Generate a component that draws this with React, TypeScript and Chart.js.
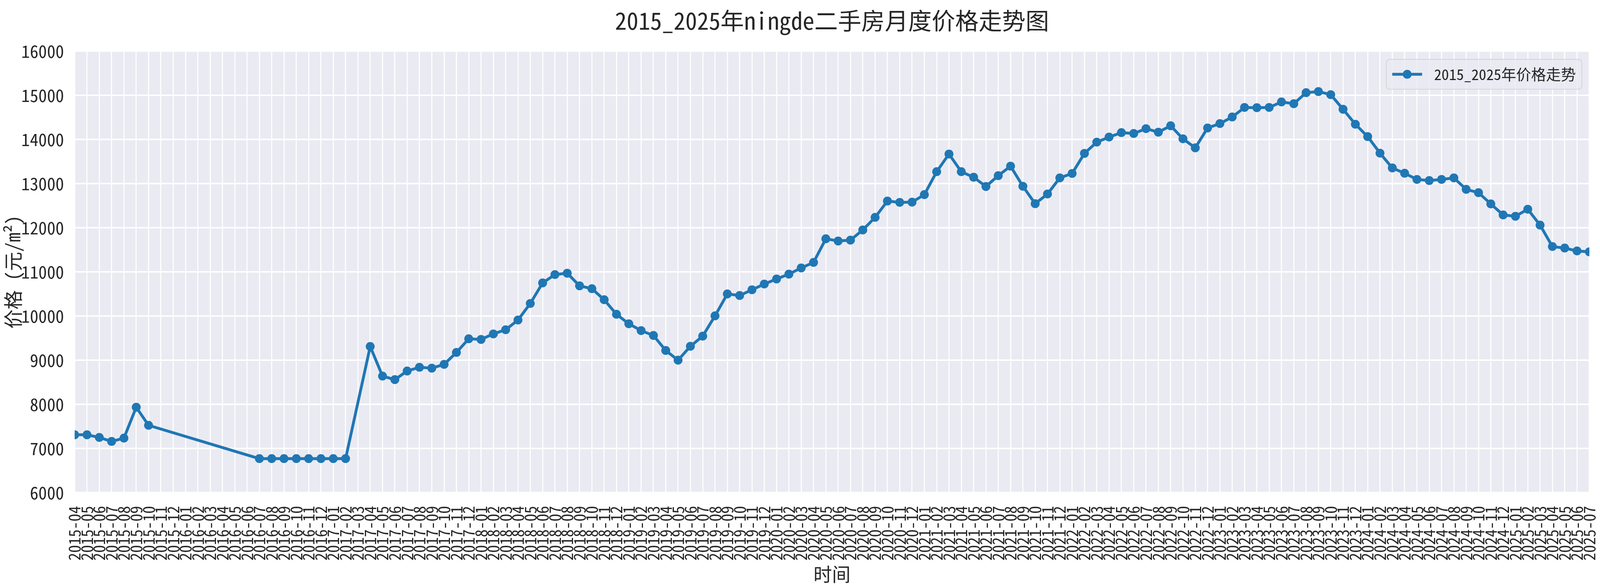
import React, { useEffect, useRef } from 'react';
import { Chart, registerables } from 'chart.js';
Chart.register(...registerables);

const FONT = "'Noto Sans Mono CJK SC', 'Noto Sans CJK SC', sans-serif";
const TEXT_COLOR = '#262626';
const LINE_COLOR = '#1f77b4';

const TITLE = '2015_2025年ningde二手房月度价格走势图';
const SERIES_LABEL = '2015_2025年价格走势';
const X_TITLE = '时间';
const Y_TITLE = '价格 (元/m²)';

// months 2015-04 .. 2025-07
const START_YEAR = 2015;
const START_MONTH = 4;
const END_YEAR = 2025;
const END_MONTH = 7;

// monthly price (元/m²), null = no data that month
const P2015 = [7310, 7310, 7250, 7160, 7235, 7935, 7525, null, null];
const P2016 = [null, null, null, null, null, null, 6770, 6770, 6770, 6770, 6770, 6770];
const P2017 = [6770, 6770, null, 9310, 8640, 8560, 8755, 8840, 8820, 8905, 9175, 9485];
const P2018 = [9470, 9595, 9690, 9910, 10285, 10750, 10940, 10970, 10685, 10620, 10370, 10040];
const P2019 = [9825, 9670, 9560, 9220, 9000, 9315, 9545, 10005, 10500, 10465, 10595, 10725];
const P2020 = [10840, 10950, 11090, 11215, 11750, 11700, 11720, 11950, 12235, 12605, 12575, 12580];
const P2021 = [12750, 13270, 13670, 13270, 13145, 12935, 13180, 13395, 12940, 12545, 12765, 13130];
const P2022 = [13230, 13685, 13940, 14055, 14155, 14135, 14245, 14165, 14310, 14015, 13810, 14260];
const P2023 = [14360, 14510, 14725, 14720, 14725, 14850, 14810, 15060, 15085, 15015, 14685, 14345];
const P2024 = [14065, 13690, 13355, 13235, 13095, 13070, 13095, 13130, 12870, 12795, 12540, 12290];
const P2025 = [12260, 12420, 12060, 11575, 11540, 11475, 11455];

const Y_MIN = 6000;
const Y_MAX = 16000;
const Y_STEP = 1000;

const PRICES: (number | null)[] = [
    ...P2015, ...P2016, ...P2017, ...P2018, ...P2019, ...P2020,
    ...P2021, ...P2022, ...P2023, ...P2024, ...P2025,
];

const buildLabels = (): string[] => {
    const out: string[] = [];
    let y = START_YEAR;
    let m = START_MONTH;
    while (y < END_YEAR || (y === END_YEAR && m <= END_MONTH)) {
        out.push(`${y}-${String(m).padStart(2, '0')}`);
        m++;
        if (m > 12) { m = 1; y++; }
    }
    return out;
};
const LABELS = buildLabels();

// grey plot area like seaborn darkgrid
const plotBackground = {
    id: 'plotBackground',
    beforeDraw(chart: any) {
        const { ctx, chartArea, width, height } = chart;
        ctx.save();
        ctx.fillStyle = '#ffffff';
        ctx.fillRect(0, 0, width, height);
        ctx.fillStyle = '#EAEAF2';
        ctx.fillRect(chartArea.left, chartArea.top, chartArea.right - chartArea.left, chartArea.bottom - chartArea.top);
        ctx.restore();
    }
};

const PriceChart: React.FC = () => {
    const chartRef = useRef<HTMLCanvasElement>(null);
    const chartInstance = useRef<Chart | null>(null);

    useEffect(() => {
        document.body.style.margin = '0';
        // layout numbers are given for a 4500 x 1500 page
        const SX = (window.innerWidth || 4500) / 4500;
        const SY = (window.innerHeight || 1500) / 1500;
        const px = (n: number) => n * SX;   // fonts, widths
        const py = (n: number) => n * SY;   // vertical distances

        // title centred over the plot area (like matplotlib's ax.set_title)
        const axesTitle = {
            id: 'axesTitle',
            afterDraw(chart: any) {
                const { ctx, chartArea } = chart;
                ctx.save();
                ctx.font = `${px(66)}px ${FONT}`;
                ctx.fillStyle = TEXT_COLOR;
                ctx.textAlign = 'center';
                ctx.textBaseline = 'middle';
                ctx.fillText(TITLE, (chartArea.left + chartArea.right) / 2, py(53));
                ctx.restore();
            }
        };

        // legend box in the upper right corner of the plot
        const innerLegend = {
            id: 'innerLegend',
            afterDraw(chart: any) {
                const { ctx, chartArea } = chart;
                const fs = px(42);
                ctx.save();
                ctx.font = `${fs}px ${FONT}`;
                const tw = ctx.measureText(SERIES_LABEL).width;
                const pad = 0.4 * fs;
                const handle = 2 * fs;
                const gap = 0.8 * fs;
                const w = pad * 2 + handle + gap + tw;
                const h = fs * 1.2 + pad * 2;
                const x = chartArea.right - 0.5 * fs - w;
                const y = chartArea.top + py(21);

                ctx.beginPath();
                ctx.roundRect(x, y, w, h, px(10));
                ctx.fillStyle = 'rgba(234, 234, 242, 0.8)';
                ctx.fill();
                ctx.lineWidth = px(2);
                ctx.strokeStyle = 'rgba(204, 204, 204, 0.8)';
                ctx.stroke();

                const cy = y + h / 2;
                ctx.beginPath();
                ctx.moveTo(x + pad, cy);
                ctx.lineTo(x + pad + handle, cy);
                ctx.strokeStyle = LINE_COLOR;
                ctx.lineWidth = px(8);
                ctx.stroke();
                ctx.beginPath();
                ctx.arc(x + pad + handle / 2, cy, px(12.5), 0, Math.PI * 2);
                ctx.fillStyle = LINE_COLOR;
                ctx.fill();

                ctx.fillStyle = TEXT_COLOR;
                ctx.textBaseline = 'middle';
                ctx.textAlign = 'left';
                ctx.fillText(SERIES_LABEL, x + pad + handle + gap, cy);
                ctx.restore();
            }
        };

        if (chartRef.current) {
            const ctx = chartRef.current.getContext('2d');
            if (ctx) {
                if (chartInstance.current) {
                    chartInstance.current.destroy();
                }

                chartInstance.current = new Chart(ctx, {
                    type: 'line',
                    data: {
                        labels: LABELS,
                        datasets: [{
                            label: SERIES_LABEL,
                            data: PRICES,
                            borderColor: LINE_COLOR,
                            backgroundColor: LINE_COLOR,
                            borderWidth: px(8),
                            pointRadius: px(12.5),
                            pointBorderWidth: 0,
                            pointBackgroundColor: LINE_COLOR,
                            spanGaps: true,
                            tension: 0,
                            clip: 0
                        }]
                    },
                    options: {
                        animation: false,
                        responsive: true,
                        maintainAspectRatio: false,
                        layout: { padding: { left: 0, right: px(30), top: py(131), bottom: 0 } },
                        plugins: {
                            legend: { display: false },
                            tooltip: { enabled: false },
                            title: { display: false }
                        },
                        scales: {
                            x: {
                                type: 'category',
                                offset: false,
                                border: { display: false },
                                grid: { color: '#ffffff', lineWidth: px(3), drawTicks: false },
                                ticks: {
                                    autoSkip: false,
                                    maxRotation: 90,
                                    minRotation: 90,
                                    padding: py(34),
                                    color: TEXT_COLOR,
                                    font: { size: px(44), family: FONT }
                                },
                                title: {
                                    display: true,
                                    text: X_TITLE,
                                    color: TEXT_COLOR,
                                    font: { size: px(52), family: FONT },
                                    padding: { top: 0, bottom: py(2) }
                                },
                                afterFit: (scale: any) => {
                                    scale.height = py(239);
                                    scale.paddingLeft = 0;
                                    scale.paddingRight = 0;
                                }
                            },
                            y: {
                                min: Y_MIN,
                                max: Y_MAX,
                                border: { display: false },
                                grid: { color: '#ffffff', lineWidth: px(4), drawTicks: false },
                                ticks: {
                                    stepSize: Y_STEP,
                                    padding: px(30),
                                    color: TEXT_COLOR,
                                    font: { size: px(48), family: FONT },
                                    callback: (value: any) => String(value)
                                },
                                title: {
                                    display: true,
                                    text: Y_TITLE,
                                    color: TEXT_COLOR,
                                    font: { size: px(54), family: FONT },
                                    padding: { top: px(4), bottom: 0 }
                                },
                                afterFit: (scale: any) => {
                                    scale.width = px(210);
                                    scale.paddingTop = 0;
                                }
                            }
                        }
                    },
                    plugins: [plotBackground, axesTitle, innerLegend]
                });
            }
        }

        return () => {
            if (chartInstance.current) {
                chartInstance.current.destroy();
                chartInstance.current = null;
            }
        };
    }, []);

    return (
        <div style={{ position: 'fixed', left: 0, top: 0, width: '100vw', height: '100vh', background: '#fff' }}>
            <canvas ref={chartRef}></canvas>
        </div>
    );
};

export default function App() {
    return <PriceChart />;
}
